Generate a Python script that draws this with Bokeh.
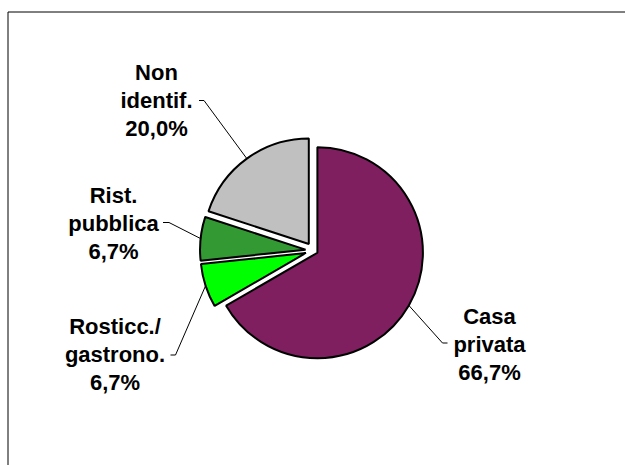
import math
from bokeh.plotting import figure
from bokeh.models import Range1d
from bokeh.embed import file_html
from bokeh.resources import INLINE
from bokeh.core.properties import value

# ---- data ----
categories = ["Casa privata", "Rosticc./ gastrono.", "Rist. pubblica", "Non identif."]
label_lines = [["Casa", "privata"], ["Rosticc./", "gastrono."], ["Rist.", "pubblica"], ["Non", "identif."]]
values = [66.7, 6.7, 6.7, 20.0]
colors = ["#7F1F5F", "#00FF00", "#339933", "#C0C0C0"]

# ---- layout / style (screen pixels, y down) ----
W, H = 625, 465
CX, CY = 313.0, 250.0
R = 105.5
explode = [4.5, 8.0, 8.0, 8.0]
label_center = [(489, 344), (114.5, 354), (113, 223), (156, 99.5)]
tick_start = [(447, 342.5), (170, 354.5), (162.5, 222), (198.5, 100)]
tick_end = [(442, 342.5), (175, 354.5), (168.5, 222), (203.5, 100)]
LINE_SP = 28
FONT = "Liberation Sans"
FSIZE = "22px"


def sy(y):
    return H - y


p = figure(width=W, height=H, output_backend="svg", toolbar_location=None,
           x_range=Range1d(0, W), y_range=Range1d(0, H),
           x_axis_type=None, y_axis_type=None, min_border=0)
p.grid.visible = False
p.outline_line_color = None
p.background_fill_color = "white"
p.border_fill_color = "white"

# outer frame (right/bottom edges lie outside the picture)
p.quad(left=[7.5], right=[W + 20], top=[sy(11.5)], bottom=[-20],
       fill_color=None, line_color="#000000", line_width=1)

total = sum(values)
acc = 0.0
xs_lines, ys_lines = [], []
tx, ty, tt = [], [], []
for i, v in enumerate(values):
    a1 = acc / total * 360.0
    acc += v
    a2 = acc / total * 360.0
    mid = math.radians((a1 + a2) / 2)
    dx, dy = math.sin(mid), -math.cos(mid)  # screen direction, clockwise from top
    ox = CX + explode[i] * dx
    oy = CY + explode[i] * dy
    p.wedge(x=[ox], y=[sy(oy)], radius=R, radius_units="data",
            start_angle=math.radians(90 - a2), end_angle=math.radians(90 - a1),
            direction="anticlock", fill_color=colors[i],
            line_color="black", line_width=2)
    # leader line
    ax, ay = ox + R * dx, oy + R * dy
    xs_lines.append([tick_start[i][0], tick_end[i][0], ax])
    ys_lines.append([sy(tick_start[i][1]), sy(tick_end[i][1]), sy(ay)])
    # label text
    pct = f"{v:.1f}".replace(".", ",") + "%"
    lines = label_lines[i] + [pct]
    lx, ly = label_center[i]
    for k, s in enumerate(lines):
        tx.append(lx)
        ty.append(sy(ly + (k - 1) * LINE_SP))
        tt.append(s)

p.multi_line(xs=xs_lines, ys=ys_lines, line_color="black", line_width=1)
p.text(x=tx, y=ty, text=tt, text_align="center", text_baseline="middle",
       text_font=value(FONT), text_font_style="bold", text_font_size=FSIZE,
       text_color="black")

open("out.html", "w").write(file_html(p, INLINE))
